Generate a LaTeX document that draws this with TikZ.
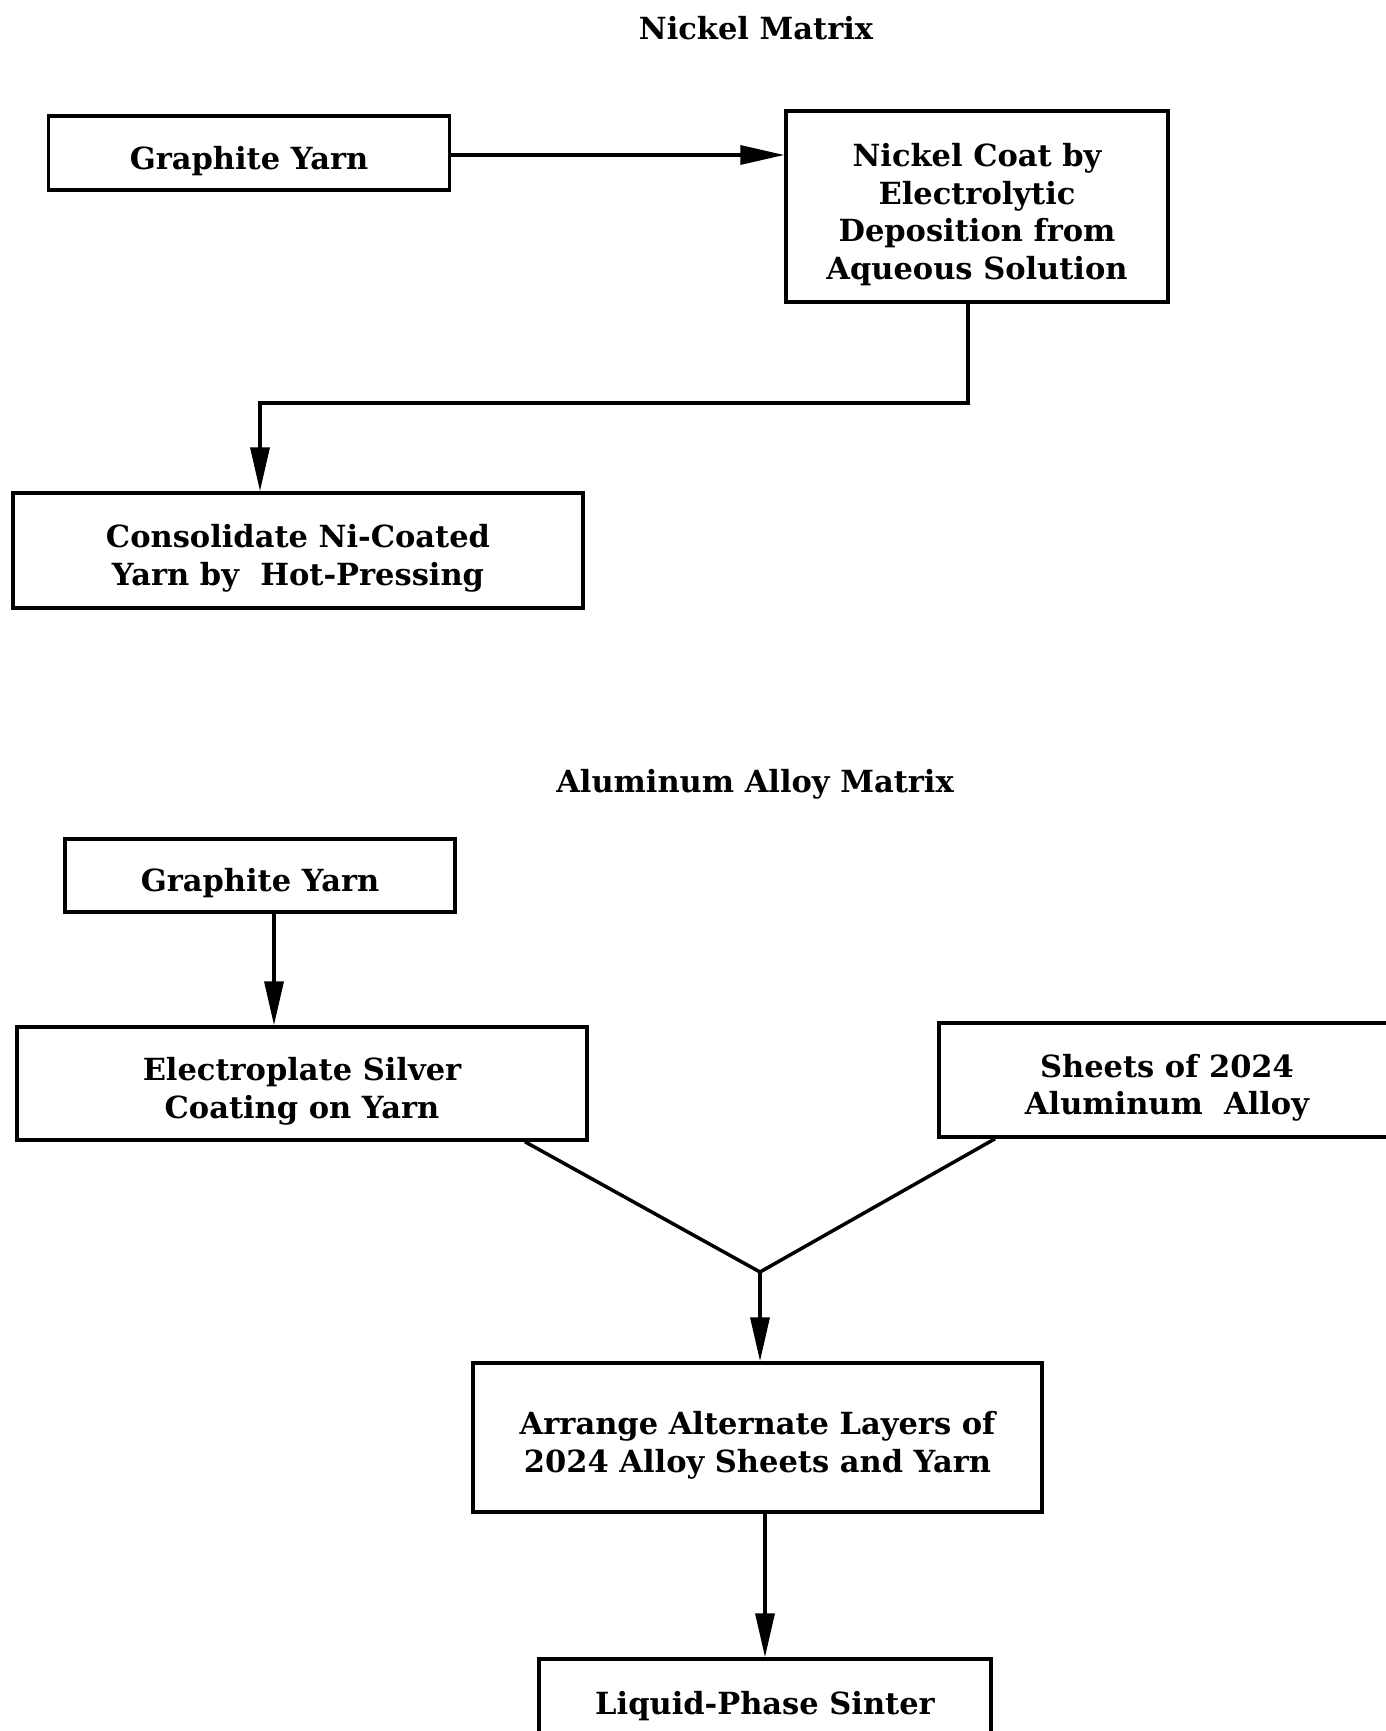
\documentclass[tikz,border=0pt]{standalone}
\usepackage{fontspec}
\setmainfont{DejaVu Serif}
\usetikzlibrary{arrows.meta}
\begin{document}
\begin{tikzpicture}[x=1pt,y=-1pt,
  txt/.style={inner sep=0pt,align=center,font=\fontsize{30.5}{37.5}\selectfont\bfseries},
  frame/.style={draw,line width=3.5pt,inner sep=0pt},
  box/.style={frame,label={[txt,yshift=-8pt]center:#1}},
  ttl/.style={inner sep=0pt,font=\fontsize{30.5}{37.5}\selectfont\bfseries},
  conn/.style={line width=3.5pt},
  arr/.style={line width=3.5pt,-{Triangle[length=44pt,width=19pt]}}]
\useasboundingbox (0,0) rectangle (1385,1731);
\fill[white] (0,0) rectangle (1385,1731);
\node[ttl] (t1) at (756,28) {Nickel Matrix};
\node[box={Graphite Yarn},minimum width=401pt,minimum height=74pt] (b1) at (249,153) {};
\node[box={Nickel Coat by\\Electrolytic\\Deposition from\\Aqueous Solution},minimum width=382pt,minimum height=191pt] (b2) at (977,206.5) {};
\node[box={Consolidate Ni-Coated\\Yarn by\ \ Hot-Pressing},minimum width=570pt,minimum height=115pt] (b3) at (298,550.5) {};
\node[ttl] (t2) at (755,784) {Aluminum Alloy Matrix};
\node[box={Graphite Yarn},minimum width=390pt,minimum height=73pt] (b4) at (260,875.5) {};
\node[box={Electroplate Silver\\Coating on Yarn},minimum width=570pt,minimum height=113pt] (b5) at (302,1083.5) {};
\node[box={Sheets of 2024\\Aluminum\ \ Alloy},minimum width=456pt,minimum height=114pt] (b6) at (1167,1080) {};
\node[box={Arrange Alternate Layers of\\2024 Alloy Sheets and Yarn},minimum width=569pt,minimum height=149pt] (b7) at (757.5,1437.5) {};
\node[frame,label={[txt,yshift=-2pt]center:Liquid-Phase Sinter},minimum width=452pt,minimum height=91pt] (b8) at (765,1704.5) {};
\coordinate (ya) at (0,155);
\coordinate (k1) at (968,403);
\coordinate (k2) at (260,403);
\coordinate (xa) at (274,0);
\coordinate (xl) at (525,0);
\coordinate (xr) at (995,0);
\coordinate (J) at (760,1272);
\draw[arr] (b1.east |- ya) -- (b2.west |- ya);
\draw[arr] (b2.south -| k1) -- (k1) -- (k2) -- (k2 |- b3.north);
\draw[arr] (b4.south -| xa) -- (b5.north -| xa);
\draw[conn,line join=miter] (b5.south -| xl) -- (J) -- (b6.south -| xr);
\draw[arr] (J) -- (J |- b7.north);
\draw[arr] (b7.south -| b8.north) -- (b8.north);
\end{tikzpicture}
\end{document}
